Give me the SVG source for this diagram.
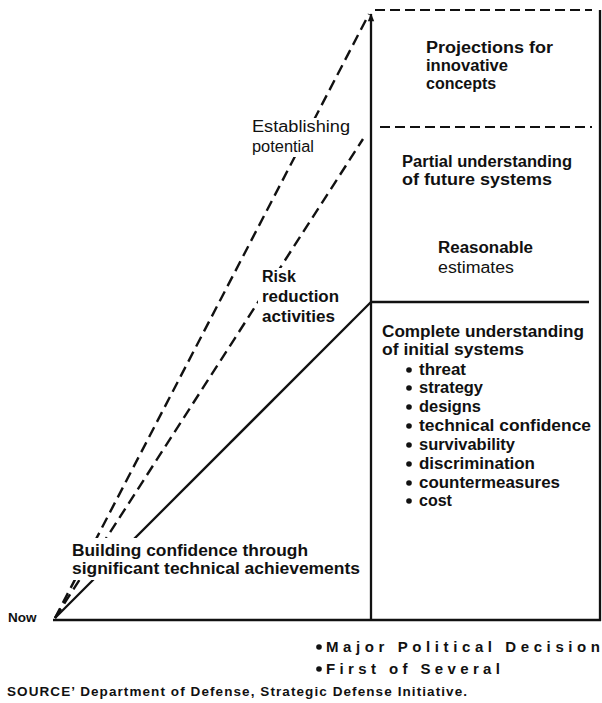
<svg xmlns="http://www.w3.org/2000/svg" width="602" height="703" viewBox="0 0 602 703">
<defs>
<style>
text{font-family:"Liberation Sans",Arial,Helvetica,sans-serif;fill:#111}
.b{font-weight:bold;font-size:16px}
.r{font-weight:normal;font-size:16px}
.s{font-weight:bold;font-size:13.5px}
.m{font-weight:bold;font-size:15px}
.solid{stroke:#111;stroke-width:2.3;fill:none}
.dash{stroke:#111;stroke-width:2.4;fill:none;stroke-dasharray:11 6}
.hdash{stroke:#111;stroke-width:2;fill:none;stroke-dasharray:10 5}
.mask{fill:#fff}
</style>
<marker id="arr" viewBox="0 0 10 10" refX="9" refY="5" markerWidth="9" markerHeight="8" orient="auto" markerUnits="userSpaceOnUse">
<path d="M0,1 L10,5 L0,9 z" fill="#111"/>
</marker>
</defs>
<rect width="602" height="703" fill="#fff"/>

<g id="connectors">
<line class="dash" x1="55" y1="618" x2="369" y2="14"/>
<line class="dash" x1="55" y1="618" x2="363" y2="139"/>
<line class="solid" x1="55" y1="618" x2="371" y2="302"/>
</g>

<g id="frame">
<line class="solid" x1="371" y1="621" x2="371" y2="14" marker-end="url(#arr)"/>
<line class="hdash" x1="375" y1="10" x2="592" y2="10"/>
<line class="hdash" x1="380" y1="127" x2="592" y2="127"/>
<line class="solid" x1="371" y1="302" x2="589" y2="302"/>
<line class="solid" x1="600" y1="10" x2="600" y2="621"/>
<line x1="53" y1="620" x2="601" y2="620" stroke="#111" stroke-width="2.6"/>
</g>

<g id="establishing">
<rect class="mask" x="248" y="118" width="82" height="39"/>
<text class="r" x="252" y="132" textLength="98" lengthAdjust="spacingAndGlyphs">Establishing</text>
<text class="r" x="252" y="152" textLength="62" lengthAdjust="spacingAndGlyphs">potential</text>
</g>

<g id="risk">
<rect class="mask" x="258" y="268" width="80" height="60"/>
<text class="b" x="262" y="282">Risk</text>
<text class="b" x="262" y="302" textLength="77" lengthAdjust="spacingAndGlyphs">reduction</text>
<text class="b" x="262" y="322" textLength="73" lengthAdjust="spacingAndGlyphs">activities</text>
</g>

<g id="building">
<rect class="mask" x="68" y="538" width="296" height="42"/>
<text class="b" x="72" y="556" textLength="236" lengthAdjust="spacingAndGlyphs">Building confidence through</text>
<text class="b" x="72" y="574" textLength="288" lengthAdjust="spacingAndGlyphs">significant technical achievements</text>
</g>

<g id="now">
<text class="s" x="8" y="622">Now</text>
</g>

<g id="projections">
<text class="b" x="426" y="53" textLength="127" lengthAdjust="spacingAndGlyphs">Projections for</text>
<text class="b" x="426" y="71" textLength="82" lengthAdjust="spacingAndGlyphs">innovative</text>
<text class="b" x="426" y="89">concepts</text>
</g>

<g id="partial">
<text class="b" x="402" y="167" textLength="170" lengthAdjust="spacingAndGlyphs">Partial understanding</text>
<text class="b" x="402" y="185" textLength="150" lengthAdjust="spacingAndGlyphs">of future systems</text>
</g>

<g id="reasonable">
<text class="b" x="438" y="253" textLength="95" lengthAdjust="spacingAndGlyphs">Reasonable</text>
<text class="r" x="438" y="273" textLength="76" lengthAdjust="spacingAndGlyphs">estimates</text>
</g>

<g id="complete">
<text class="b" x="382" y="337" textLength="202" lengthAdjust="spacingAndGlyphs">Complete understanding</text>
<text class="b" x="382" y="355" textLength="142" lengthAdjust="spacingAndGlyphs">of initial systems</text>
<g fill="#111">
<circle cx="409" cy="370" r="2.8"/>
<circle cx="409" cy="388" r="2.8"/>
<circle cx="409" cy="407" r="2.8"/>
<circle cx="409" cy="426" r="2.8"/>
<circle cx="409" cy="445" r="2.8"/>
<circle cx="409" cy="464" r="2.8"/>
<circle cx="409" cy="483" r="2.8"/>
<circle cx="409" cy="501" r="2.8"/>
</g>
<text class="b" x="419" y="375" textLength="47" lengthAdjust="spacingAndGlyphs">threat</text>
<text class="b" x="419" y="393" textLength="64" lengthAdjust="spacingAndGlyphs">strategy</text>
<text class="b" x="419" y="412" textLength="62" lengthAdjust="spacingAndGlyphs">designs</text>
<text class="b" x="419" y="431" textLength="172" lengthAdjust="spacingAndGlyphs">technical confidence</text>
<text class="b" x="419" y="450" textLength="96" lengthAdjust="spacingAndGlyphs">survivability</text>
<text class="b" x="419" y="469" textLength="116" lengthAdjust="spacingAndGlyphs">discrimination</text>
<text class="b" x="419" y="488" textLength="141" lengthAdjust="spacingAndGlyphs">countermeasures</text>
<text class="b" x="419" y="506">cost</text>
</g>

<g id="decision">
<circle cx="319" cy="647" r="2.8" fill="#111"/>
<text class="m" x="326" y="652" textLength="274" lengthAdjust="spacing">Major Political Decision</text>
<circle cx="319" cy="669" r="2.8" fill="#111"/>
<text class="m" x="326" y="674" textLength="174" lengthAdjust="spacing">First of Several</text>
</g>

<g id="source">
<text class="s" x="7" y="696" textLength="460" lengthAdjust="spacing">SOURCE’ Department of Defense, Strategic Defense Initiative.</text>
</g>
</svg>
